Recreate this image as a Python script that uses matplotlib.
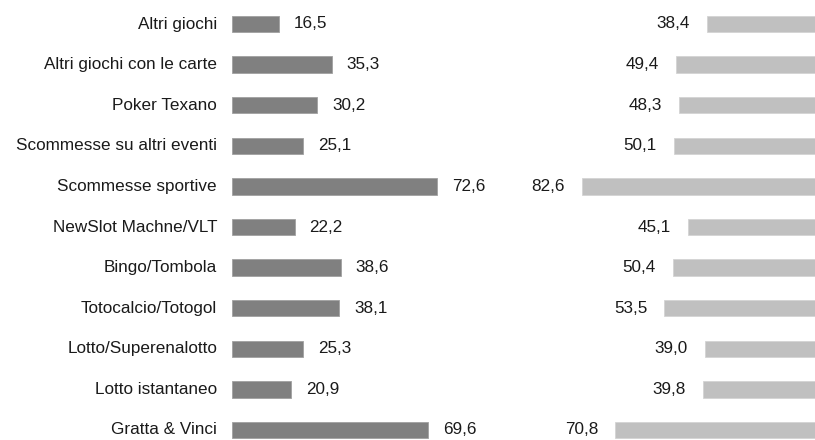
import matplotlib.pyplot as plt

plt.rcParams['font.family'] = ['Liberation Sans', 'DejaVu Sans']

categories = ['Altri giochi', 'Altri giochi con le carte', 'Poker Texano',
              'Scommesse su altri eventi', 'Scommesse sportive',
              'NewSlot Machne/VLT', 'Bingo/Tombola', 'Totocalcio/Totogol',
              'Lotto/Superenalotto', 'Lotto istantaneo', 'Gratta & Vinci']
left_vals = [16.5, 35.3, 30.2, 25.1, 72.6, 22.2, 38.6, 38.1, 25.3, 20.9, 69.6]
right_vals = [38.4, 49.4, 48.3, 50.1, 82.6, 45.1, 50.4, 53.5, 39.0, 39.8, 70.8]

W, H = 815, 440
fig = plt.figure(figsize=(W / 100, H / 100), dpi=100)
x0 = 232
ax = fig.add_axes([x0 / W, 0, (W - x0) / W, 1])

ppu = 2.82  # pixels per unit
R = (W - x0) / ppu
ax.set_xlim(0, R)
step = 40.6
ax.set_ylim(10 + (H - 24 - 10 * step) / step, -24 / step)

pos = range(len(categories))
ax.barh(pos, left_vals, height=0.4, color='#808080', edgecolor='#a0a0a0', linewidth=0.6)
ax.barh(pos, right_vals, left=[R - v for v in right_vals], height=0.4,
        color='#c0c0c0', edgecolor='#d4d4d4', linewidth=0.6)

fs = 12.3
for i, (c, a, b) in enumerate(zip(categories, left_vals, right_vals)):
    ax.text(-15 / ppu, i, c, ha='right', va='center', fontsize=fs, color='#1a1a1a', clip_on=False)
    ax.text(a + 15 / ppu, i, f'{a:.1f}'.replace('.', ','), ha='left', va='center', fontsize=fs, color='#1a1a1a')
    ax.text(R - b - 17 / ppu, i, f'{b:.1f}'.replace('.', ','), ha='right', va='center', fontsize=fs, color='#1a1a1a')

ax.axis('off')
fig.savefig('out.png', dpi=100)
